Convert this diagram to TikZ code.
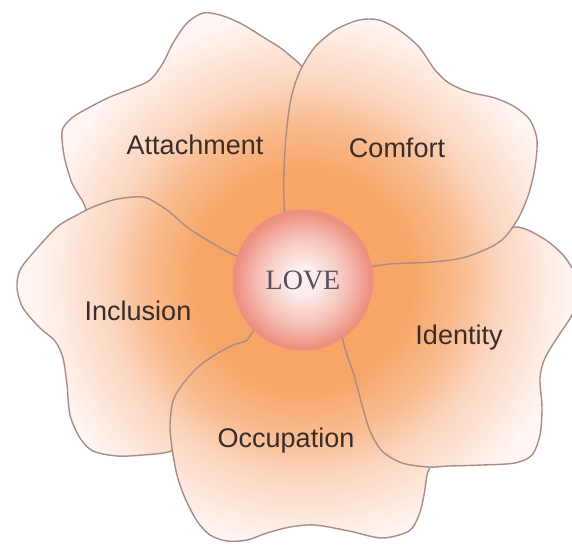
\documentclass[tikz,border=0pt]{standalone}
\usepackage{fontspec}
\newfontfamily\petalfont{Liberation Sans}
\newfontfamily\lovefont{Liberation Serif}
\definecolor{petalin}{RGB}{247,166,104}
\definecolor{petalpeach}{RGB}{249,186,140}
\definecolor{petalmid}{RGB}{251,214,192}
\definecolor{petalout}{RGB}{255,246,243}
\definecolor{petalline}{RGB}{170,140,134}
\definecolor{lovein}{RGB}{252,238,238}
\definecolor{lovemid}{RGB}{246,192,182}
\definecolor{loveedge}{RGB}{238,144,130}
\definecolor{labelink}{RGB}{58,44,40}
\definecolor{loveink}{RGB}{85,80,92}
% TikZ fits 25bp of a radial shading to the radius of the shaded circle
\pgfdeclareradialshading{petalglow}{\pgfpoint{0bp}{0bp}}{color(0bp)=(petalin); color(8.5bp)=(petalin); color(12bp)=(petalpeach); color(15.5bp)=(petalmid); color(21bp)=(petalout); color(50bp)=(petalout)}
\pgfdeclareradialshading{loveglow}{\pgfpoint{0bp}{0bp}}{color(0bp)=(lovein); color(5bp)=(lovein); color(16bp)=(lovemid); color(24bp)=(loveedge); color(50bp)=(loveedge)}
\begin{document}
\begin{tikzpicture}[x=0.5pt,y=-0.5pt,
  petal/.style={draw=petalline, line width=0.7pt,
    path picture={\shade[shading=petalglow] (ctr) circle (160pt);}},
  petaltext/.style={font=\petalfont\fontsize{13.5}{16}\selectfont, text=labelink}]
\useasboundingbox (0,0) rectangle (572,548);
\clip (0,0) rectangle (572,548);
\fill[white] (0,0) rectangle (572,548);
\coordinate (ctr) at (303,280);
% Attachment petal (lowest, under Comfort and Inclusion)
\draw[petal] plot[smooth cycle, tension=0.5] coordinates {
  (63,128) (73,117) (90,107) (110,97) (133,88) (150,80) (163,63) (173,43)
  (187,23) (203,13) (220,15) (240,23) (263,37) (287,53) (310,80) (316,150)
  (308,215) (282,255) (240,270) (150,228) (95,218) (82,200) (72,183) (65,160) (62,140)};
% Inclusion petal
\draw[petal] plot[smooth cycle, tension=0.5] coordinates {
  (262,268) (230,253) (207,240) (187,227) (167,210) (147,198) (133,197) (113,200)
  (93,207) (77,215) (57,227) (33,253) (20,270) (17,288) (23,308) (40,328)
  (55,341) (63,358) (67,385) (70,415) (80,438) (93,451) (117,456) (143,455)
  (172,451) (205,435) (232,390) (268,340) (272,300)};
% Occupation petal
\draw[petal] plot[smooth cycle, tension=0.5] coordinates {
  (262,322) (247,340) (233,345) (213,356) (197,368) (182,385) (173,401) (170,425)
  (172,448) (177,475) (185,498) (197,521) (210,535) (227,541) (247,540) (267,533)
  (290,527) (315,525) (349,531) (382,538) (409,531) (419,515) (424,495) (427,475)
  (432,450) (405,385) (345,330) (295,328)};
% Identity petal (runs off the right edge)
\draw[petal] plot[smooth cycle, tension=0.5] coordinates {
  (335,300) (380,245) (450,243) (497,234) (515,227) (530,231) (550,243) (567,260)
  (582,290) (572,315) (559,335) (545,358) (540,378) (542,408) (540,435) (532,455)
  (515,463) (482,465) (449,466) (429,467) (402,463) (382,451) (370,431) (362,405)
  (354,375) (347,355) (343,340)};
% Comfort petal (on top of Attachment and Identity)
\draw[petal] plot[smooth cycle, tension=0.5] coordinates {
  (302,67) (315,47) (335,30) (359,20) (379,20) (399,30) (419,47) (435,70)
  (449,83) (469,92) (495,98) (515,107) (530,120) (537,140) (535,167) (529,193)
  (519,217) (505,237) (489,248) (462,258) (432,262) (390,264) (345,268) (292,250)
  (284,200) (285,150) (289,110) (294,87)};
% centre
\node (love) [circle, minimum size=70pt, inner sep=0pt, shading=loveglow,
  draw=loveedge!85!petalline, line width=0.3pt, font=\lovefont\fontsize{14}{16}\selectfont,
  text=loveink] at (ctr) {LOVE};
% labels
\node (attach) [petaltext] at (195,145) {Attachment};
\node (comfort) [petaltext] at (397,148) {Comfort};
\node (inclus) [petaltext] at (138,311) {Inclusion};
\node (identity) [petaltext] at (459,338) {Identity};
\node (occup) [petaltext] at (286,441) {Occupation};
\end{tikzpicture}
\end{document}
